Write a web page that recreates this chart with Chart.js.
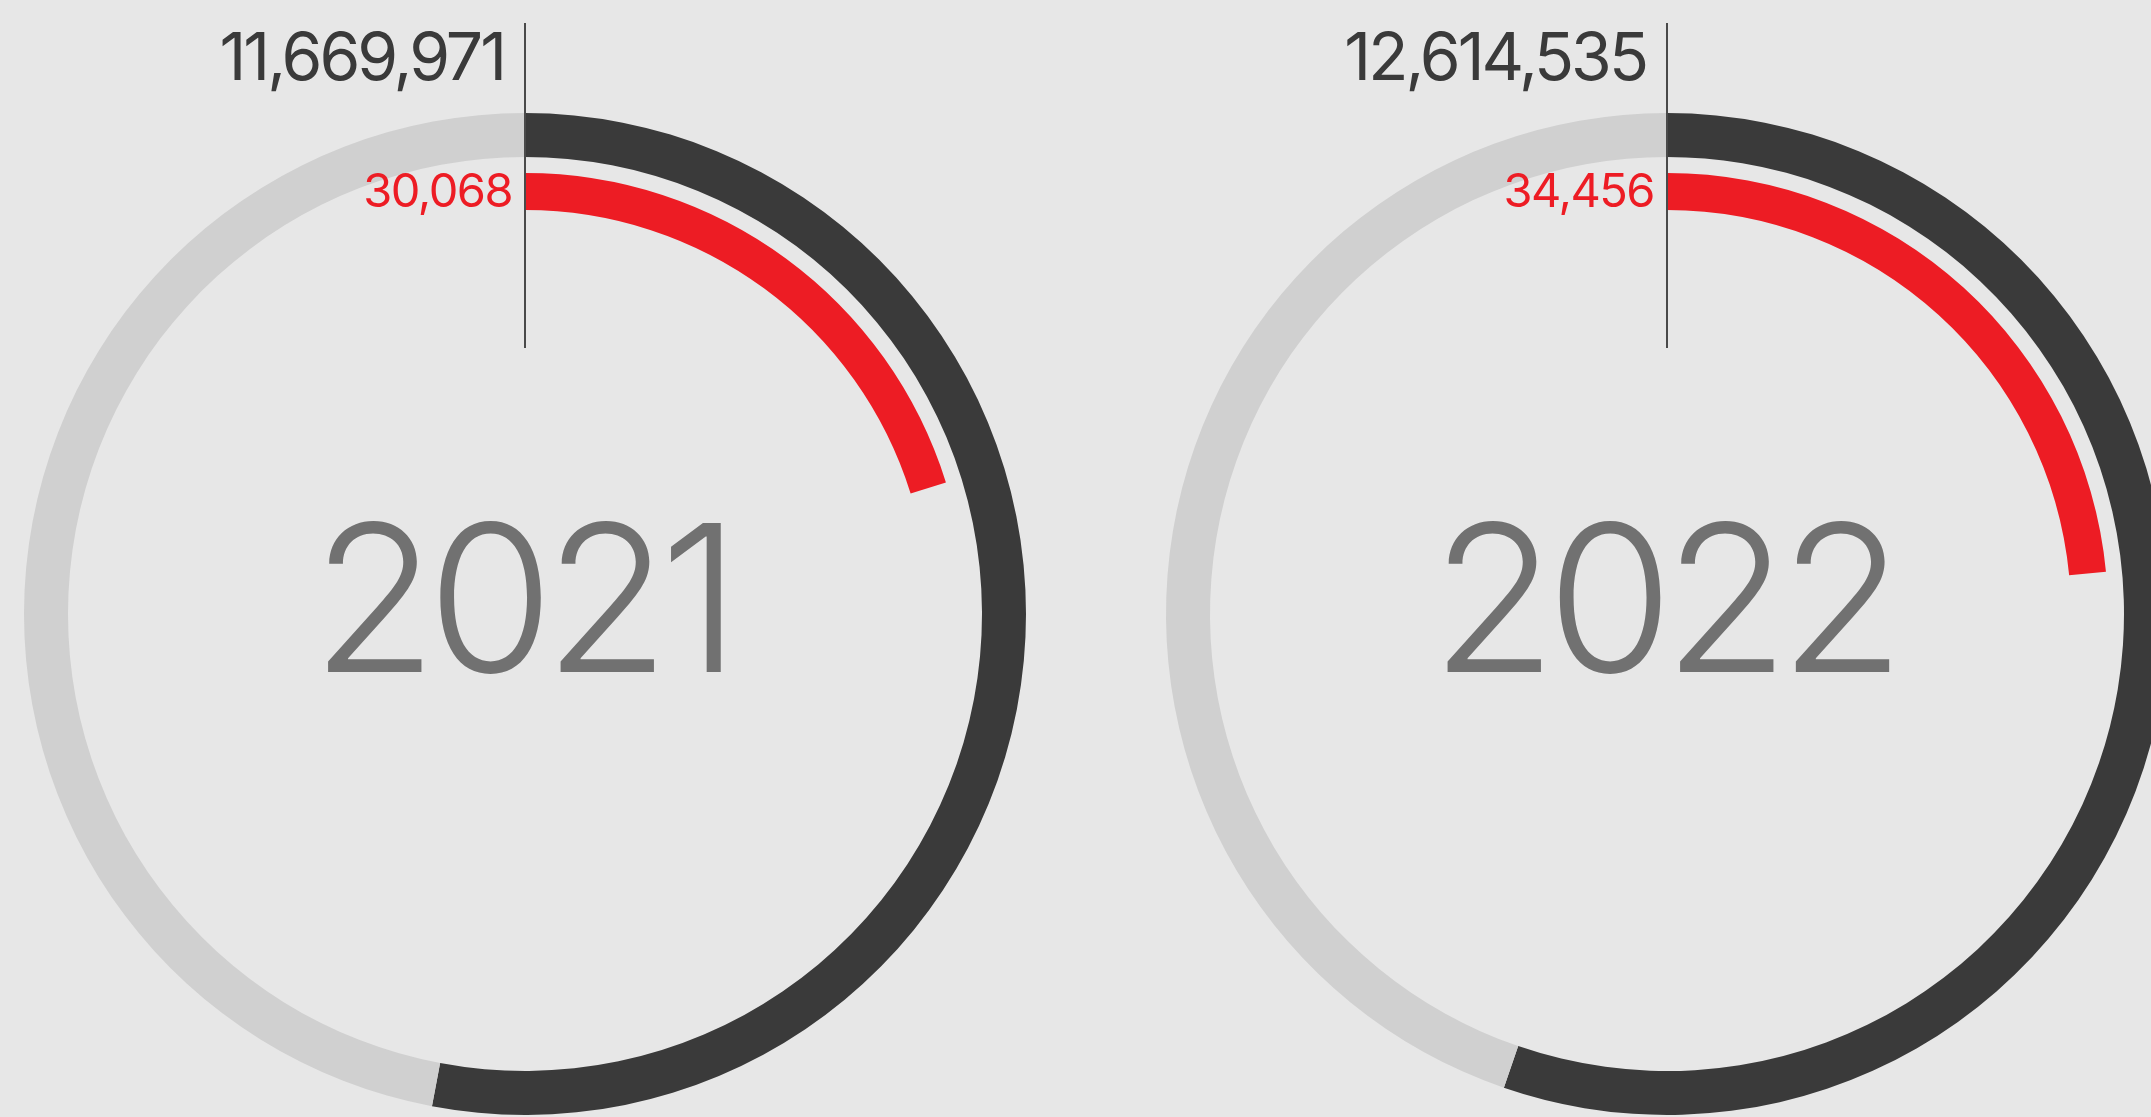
<!DOCTYPE html>
<html>
<head>
<meta charset="utf-8">
<script src="https://cdn.jsdelivr.net/npm/chart.js@4"></script>
<style>
  html, body { margin: 0; padding: 0; background: #e7e7e7; overflow: hidden; width: 2151px; height: 1117px; }
  canvas { position: absolute; top: 0; }
</style>
</head>
<body>
<canvas id="c0" width="1075" height="1117" style="left:0px"></canvas>
<canvas id="c1" width="1100" height="1117" style="left:1075px"></canvas>
<script>
// ---- data ----
const years = ['2021', '2022'];
const totalValues = [11669971, 12614535];
const totalScale = [22030000, 22820000];   // full-circle reference for the dark ring
const redValues = [30068, 34456];
const redScale = [149000, 146800];         // full-circle reference for the red ring

// ---- styles ----
const BG = '#e7e7e7', DARK = '#3a3a3a', LIGHT = '#d0d0d0', RED = '#ed1c24', YEAR = '#717171';
const FONT = 'Inter, "Open Sans", sans-serif';
const fmt = v => v.toLocaleString('en-US');

const layouts = [
  { pad: { left: 24, right: 49, top: 113, bottom: 2 } },
  { pad: { left: 91, right: 7, top: 113, bottom: 2 } }
];

function spaced(ctx, ls) { if ('letterSpacing' in ctx) ctx.letterSpacing = ls; }

const labelPlugin = {
  id: 'labels',
  afterDraw(chart) {
    const i = chart.options.plugins.labels.index;
    const ctx = chart.ctx;
    const a = chart.chartArea;
    const cx = (a.left + a.right) / 2;
    ctx.save();
    // vertical marker line
    ctx.strokeStyle = '#4a4a4a';
    ctx.lineWidth = 2;
    ctx.beginPath();
    ctx.moveTo(cx, 23);
    ctx.lineTo(cx, 348);
    ctx.stroke();
    // top values
    ctx.textAlign = 'right';
    ctx.textBaseline = 'alphabetic';
    ctx.fillStyle = DARK;
    ctx.font = '400 66px ' + FONT;
    spaced(ctx, '-3px');
    ctx.fillText(fmt(totalValues[i]), cx - 21, 80);
    ctx.fillStyle = RED;
    ctx.font = '400 47px ' + FONT;
    spaced(ctx, '-1.5px');
    ctx.fillText(fmt(redValues[i]), cx - 13, 207);
    // year
    ctx.textAlign = 'center';
    ctx.fillStyle = YEAR;
    ctx.font = '300 205px ' + FONT;
    spaced(ctx, '-10px');
    ctx.fillText(years[i], cx - 4, 672);
    ctx.restore();
  }
};

years.forEach((y, i) => {
  new Chart(document.getElementById('c' + i), {
    type: 'doughnut',
    data: {
      labels: ['value', 'rest'],
      datasets: [
        { data: [totalValues[i], totalScale[i] - totalValues[i]], backgroundColor: [DARK, LIGHT], weight: 44 },
        { data: [1], backgroundColor: ['rgba(0,0,0,0)'], weight: 16 },
        { data: [redValues[i], redScale[i] - redValues[i]], backgroundColor: [RED, 'rgba(0,0,0,0)'], weight: 37 }
      ]
    },
    options: {
      responsive: false,
      animation: false,
      devicePixelRatio: 1,
      cutout: 404,
      radius: 501,
      borderWidth: 0,
      offset: 0,
      hoverOffset: 0,
      layout: { padding: layouts[i].pad },
      elements: { arc: { borderWidth: 0, offset: 0, hoverOffset: 0 } },
      plugins: { legend: { display: false }, tooltip: { enabled: false }, labels: { index: i } },
      events: []
    },
    plugins: [labelPlugin]
  });
});
</script>
</body>
</html>
